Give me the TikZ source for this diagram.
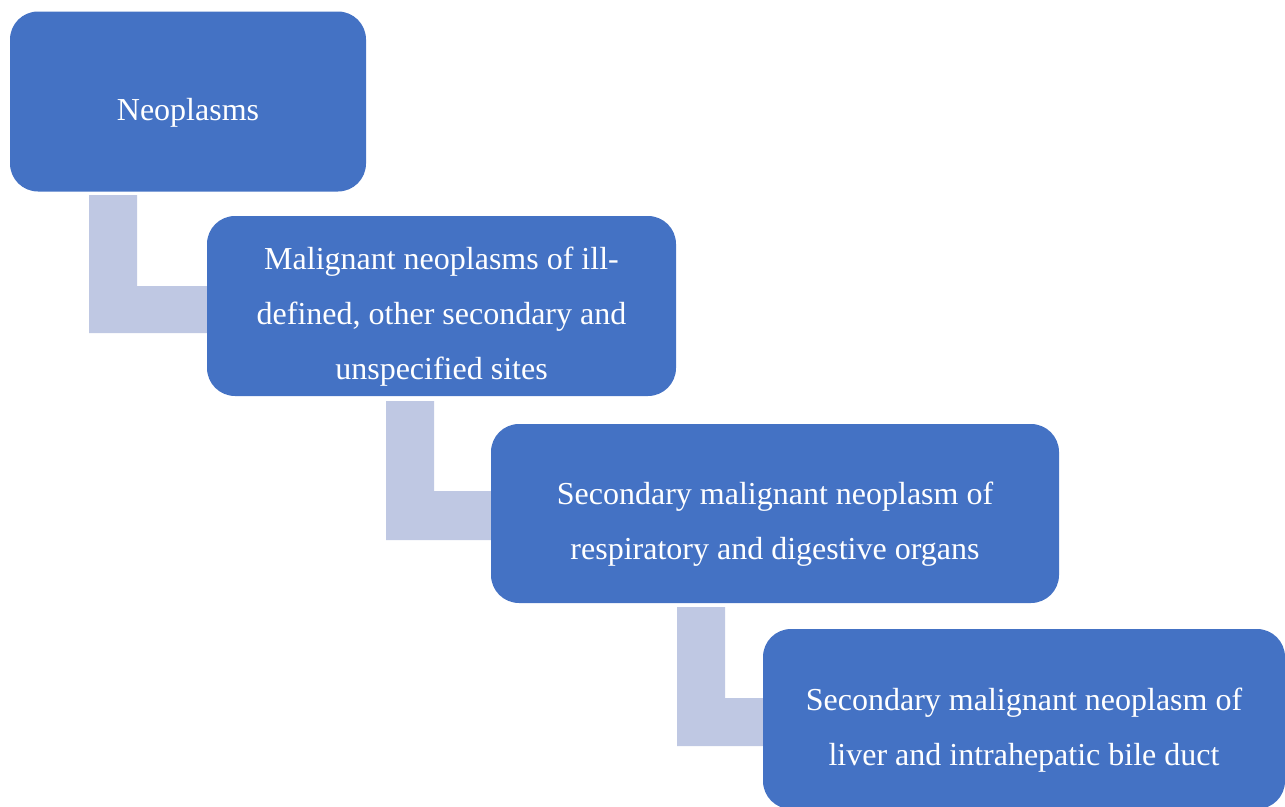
\documentclass[tikz,border=0pt]{standalone}
\usepackage{fontspec}
\setmainfont{Liberation Serif}
\definecolor{boxblue}{HTML}{4472C4}
\definecolor{linkblue}{HTML}{BFC8E3}
\begin{document}
\begin{tikzpicture}[x=1pt,y=-1pt,
  stagebox/.style={fill=boxblue, draw=none, rounded corners=28pt, inner sep=0pt},
  stagetext/.style={text=white, align=center, inner sep=0pt, yshift=-11pt,
    font=\fontsize{32}{55}\selectfont},
  linkshape/.style={fill=linkblue, draw=none}]
\useasboundingbox (0,0) rectangle (1285,806);
\node[stagebox, minimum width=356pt, minimum height=180pt,
  label={[stagetext]center:Neoplasms}] (b1) at (188,101.5) {};
\node[stagebox, minimum width=469pt, minimum height=180pt,
  label={[stagetext]center:{Malignant neoplasms of ill-\\defined, other secondary and\\unspecified sites}}] (b2) at (441.5,306) {};
\node[stagebox, minimum width=568pt, minimum height=179pt,
  label={[stagetext]center:{Secondary malignant neoplasm of\\respiratory and digestive organs}}] (b3) at (775,513.5) {};
\node[stagebox, minimum width=522pt, minimum height=180pt,
  label={[stagetext]center:{Secondary malignant neoplasm of\\liver and intrahepatic bile duct}}] (b4) at (1024,719) {};
\fill[linkshape] (89,195) -- (137,195) -- (137,286) -- (b2.west |- 0,286) -- (b2.west |- 0,333) -- (89,333) -- cycle;
\fill[linkshape] (386,401) -- (434,401) -- (434,491) -- (b3.west |- 0,491) -- (b3.west |- 0,540) -- (386,540) -- cycle;
\fill[linkshape] (677,607) -- (725,607) -- (725,698) -- (b4.west |- 0,698) -- (b4.west |- 0,746) -- (677,746) -- cycle;
\end{tikzpicture}
\end{document}
